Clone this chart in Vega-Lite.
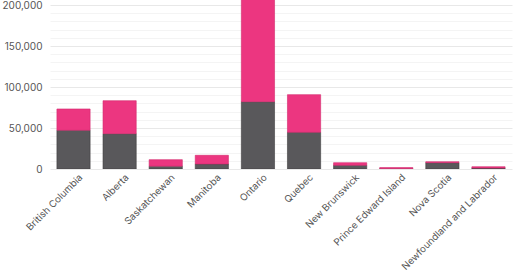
{
  "$schema": "https://vega.github.io/schema/vega-lite/v6.json",
  "autosize": "none",
  "width": 462,
  "height": 169,
  "padding": {"left": 50, "top": 0, "right": 8, "bottom": 103},
  "background": "white",
  "config": {
    "view": {"stroke": null},
    "font": "Inter",
    "axis": {"labelFont": "Inter", "labelColor": "#555555", "labelFontSize": 10, "domain": false, "ticks": false}
  },
  "data": {
    "values": [
      {"province": "British Columbia", "series": "A", "value": 47200},
      {"province": "British Columbia", "series": "B", "value": 26000},
      {"province": "Alberta", "series": "A", "value": 43100},
      {"province": "Alberta", "series": "B", "value": 40200},
      {"province": "Saskatchewan", "series": "A", "value": 3500},
      {"province": "Saskatchewan", "series": "B", "value": 7900},
      {"province": "Manitoba", "series": "A", "value": 6100},
      {"province": "Manitoba", "series": "B", "value": 10600},
      {"province": "Ontario", "series": "A", "value": 82100},
      {"province": "Ontario", "series": "B", "value": 170000},
      {"province": "Quebec", "series": "A", "value": 44700},
      {"province": "Quebec", "series": "B", "value": 46000},
      {"province": "New Brunswick", "series": "A", "value": 4500},
      {"province": "New Brunswick", "series": "B", "value": 3200},
      {"province": "Prince Edward Island", "series": "A", "value": 400},
      {"province": "Prince Edward Island", "series": "B", "value": 1300},
      {"province": "Nova Scotia", "series": "A", "value": 7700},
      {"province": "Nova Scotia", "series": "B", "value": 1200},
      {"province": "Newfoundland and Labrador", "series": "A", "value": 1200},
      {"province": "Newfoundland and Labrador", "series": "B", "value": 1600}
    ]
  },
  "mark": {"type": "bar", "clip": true, "strokeWidth": 1, "strokeOpacity": 0.6},
  "encoding": {
    "x": {
      "field": "province",
      "type": "nominal",
      "sort": null,
      "title": null,
      "scale": {"paddingInner": 0.28, "paddingOuter": 0.15},
      "axis": {"labelAngle": -45, "labelFontSize": 9.7, "labelPadding": 3, "labelOffset": 4}
    },
    "y": {
      "field": "value",
      "type": "quantitative",
      "stack": "zero",
      "title": null,
      "scale": {"domain": [0, 206100], "nice": false},
      "axis": {
        "values": [0, 10000, 20000, 30000, 40000, 50000, 60000, 70000, 80000, 90000, 100000, 110000, 120000, 130000, 140000, 150000, 160000, 170000, 180000, 190000, 200000],
        "labelExpr": "datum.value % 50000 === 0 ? format(datum.value, ',') : ''",
        "labelPadding": 8,
        "gridColor": {"condition": {"test": "datum.value % 50000 === 0", "value": "#e8e8e8"}, "value": "#f4f4f4"},
        "gridWidth": 1
      }
    },
    "color": {
      "field": "series",
      "type": "nominal",
      "legend": null,
      "scale": {"domain": ["A", "B"], "range": ["#59585b", "#ec3680"]}
    },
    "stroke": {
      "field": "series",
      "type": "nominal",
      "legend": null,
      "scale": {"domain": ["A", "B"], "range": ["#3f3e40", "#d42a6e"]}
    },
    "order": {"field": "series", "sort": "ascending"}
  }
}
